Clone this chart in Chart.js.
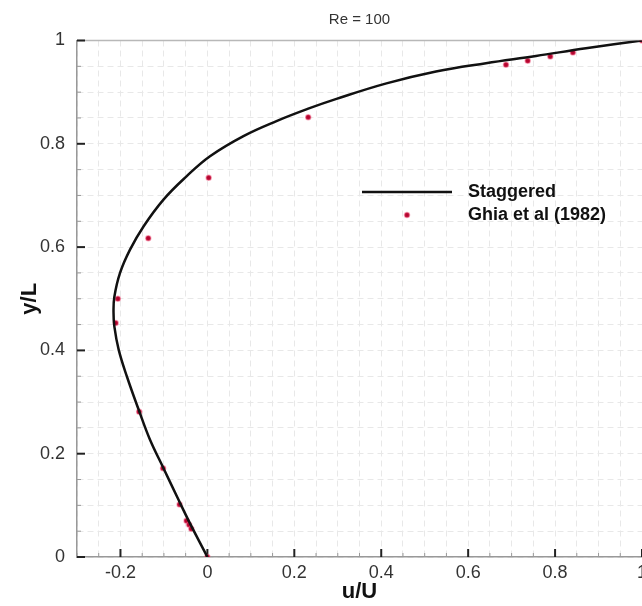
<!DOCTYPE html>
<html>
<head>
<meta charset="utf-8">
<script src="https://cdn.jsdelivr.net/npm/chart.js@4"></script>
<style>
  html, body { margin: 0; padding: 0; background: #fff; }
  #wrap { width: 642px; height: 606px; }
</style>
</head>
<body>
<div id="wrap"><canvas id="chart" width="642" height="606"></canvas></div>
<script>
// Staggered solution, u/U along the vertical centerline
const stagU = [0, -0.040, -0.070, -0.101, -0.132, -0.158, -0.185, -0.204, -0.214, -0.216, -0.214, -0.201, -0.178, -0.147, -0.101, -0.048, 0.006, 0.083, 0.159, 0.232, 0.297, 0.412, 0.526, 0.641, 0.756, 0.871, 1];
const stagY = [0, 0.065, 0.117, 0.172, 0.227, 0.285, 0.349, 0.401, 0.446, 0.475, 0.504, 0.550, 0.595, 0.640, 0.692, 0.737, 0.776, 0.815, 0.844, 0.868, 0.887, 0.917, 0.940, 0.956, 0.970, 0.985, 1];

// Ghia et al (1982) reference points
const ghiaU = [1, 0.841, 0.789, 0.737, 0.687, 0.232, 0.003, -0.136, -0.206, -0.211, -0.157, -0.102, -0.064, -0.048, -0.042, -0.037, 0];
const ghiaY = [1, 0.9766, 0.9688, 0.9609, 0.9531, 0.8516, 0.7344, 0.6172, 0.5, 0.4531, 0.2813, 0.1719, 0.1016, 0.0703, 0.0625, 0.0547, 0];

// tick labels (minor ticks every 0.05)
const xTickLabels = ['-0.2', '0', '0.2', '0.4', '0.6', '0.8', '1'];
const yTickLabels = ['0', '0.2', '0.4', '0.6', '0.8', '1'];

const FONT = '"Liberation Sans", Arial, Helvetica, sans-serif';

function labelFor(list) {
    return function (value) {
        const s = String(Math.round(value * 100) / 100);
        return list.includes(s) ? s : '';
    };
}

// inward tick marks + top frame line
const frameTicks = {
    id: 'frameTicks',
    beforeDatasetsDraw(chart) {
        const { ctx, chartArea: a, scales } = chart;
        ctx.save();
        ctx.strokeStyle = '#b8b8b8';
        ctx.lineWidth = 1.5;
        ctx.beginPath();
        ctx.moveTo(a.left, a.top);
        ctx.lineTo(a.right, a.top);
        ctx.stroke();

        scales.x.ticks.forEach(t => {
            const px = scales.x.getPixelForValue(t.value);
            const major = t.label !== '';
            ctx.strokeStyle = major ? '#222' : '#999';
            ctx.lineWidth = major ? 2 : 1;
            ctx.beginPath();
            ctx.moveTo(px, a.bottom);
            ctx.lineTo(px, a.bottom - (major ? 8 : 4));
            ctx.stroke();
        });
        scales.y.ticks.forEach(t => {
            const py = scales.y.getPixelForValue(t.value);
            const major = t.label !== '';
            ctx.strokeStyle = major ? '#222' : '#999';
            ctx.lineWidth = major ? 2 : 1;
            ctx.beginPath();
            ctx.moveTo(a.left, py);
            ctx.lineTo(a.left + (major ? 8 : 4), py);
            ctx.stroke();
        });
        ctx.restore();
    }
};

// legend drawn inside the plot
const insideLegend = {
    id: 'insideLegend',
    afterDraw(chart) {
        const ctx = chart.ctx;
        const ds = chart.data.datasets;
        ctx.save();
        ctx.font = 'bold 18px ' + FONT;
        ctx.fillStyle = '#111';
        ctx.textBaseline = 'middle';

        ctx.strokeStyle = ds[0].borderColor;
        ctx.lineWidth = 2.5;
        ctx.beginPath();
        ctx.moveTo(362, 192);
        ctx.lineTo(452, 192);
        ctx.stroke();
        ctx.fillText(ds[0].label, 468, 192);

        ctx.beginPath();
        ctx.arc(407, 215, 2.5, 0, Math.PI * 2);
        ctx.fillStyle = ds[1].pointBackgroundColor;
        ctx.fill();
        ctx.strokeStyle = ds[1].pointBorderColor;
        ctx.lineWidth = 1.5;
        ctx.stroke();
        ctx.fillStyle = '#111';
        ctx.fillText(ds[1].label, 468, 215);
        ctx.restore();
    }
};

const ctx = document.getElementById('chart').getContext('2d');
new Chart(ctx, {
    type: 'scatter',
    data: {
        datasets: [
            {
                label: 'Staggered',
                data: stagU.map((u, i) => ({ x: u, y: stagY[i] })),
                showLine: true,
                borderColor: '#111',
                borderWidth: 2.5,
                pointRadius: 0,
                tension: 0.4,
                fill: false,
                order: 0
            },
            {
                label: 'Ghia et al (1982)',
                data: ghiaU.map((u, i) => ({ x: u, y: ghiaY[i] })),
                showLine: false,
                pointRadius: 2.5,
                pointBackgroundColor: '#b3062f',
                pointBorderColor: 'rgba(240, 80, 120, 0.45)',
                pointBorderWidth: 1.5,
                order: 1
            }
        ]
    },
    options: {
        responsive: false,
        animation: false,
        layout: {
            autoPadding: false,
            padding: { left: 17, right: 0, top: 0, bottom: 0 }
        },
        plugins: {
            legend: { display: false },
            tooltip: { enabled: false },
            title: {
                display: true,
                text: 'Re = 100',
                fullSize: false,
                color: '#333',
                font: { family: FONT, size: 15, weight: 'normal', lineHeight: 1.1 },
                padding: { top: 12, bottom: 12 }
            }
        },
        scales: {
            x: {
                type: 'linear',
                min: -0.3,
                max: 1,
                afterFit(scale) {
                    scale.height = 49;
                    scale.paddingLeft = 0;
                    scale.paddingRight = 0;
                },
                ticks: {
                    stepSize: 0.05,
                    autoSkip: false,
                    maxRotation: 0,
                    padding: 5,
                    color: '#333',
                    font: { family: FONT, size: 18 },
                    callback: labelFor(xTickLabels)
                },
                grid: { color: '#e8e8e8', lineWidth: 1, drawTicks: false },
                border: { color: '#999', width: 1.5, dash: [6, 4] },
                title: {
                    display: true,
                    text: 'u/U',
                    color: '#111',
                    font: { family: FONT, size: 22, weight: 'bold' },
                    padding: { top: 0, bottom: 1 }
                }
            },
            y: {
                type: 'linear',
                min: 0,
                max: 1,
                afterFit(scale) {
                    scale.width = 60;
                },
                ticks: {
                    stepSize: 0.05,
                    autoSkip: false,
                    padding: 12,
                    color: '#333',
                    font: { family: FONT, size: 18 },
                    callback: labelFor(yTickLabels)
                },
                grid: { color: '#e8e8e8', lineWidth: 1, drawTicks: false },
                border: { color: '#999', width: 1.5, dash: [6, 4] },
                title: {
                    display: true,
                    text: 'y/L',
                    color: '#111',
                    font: { family: FONT, size: 22, weight: 'bold' },
                    padding: { top: 0, bottom: 0 }
                }
            }
        }
    },
    plugins: [frameTicks, insideLegend]
});
</script>
</body>
</html>
